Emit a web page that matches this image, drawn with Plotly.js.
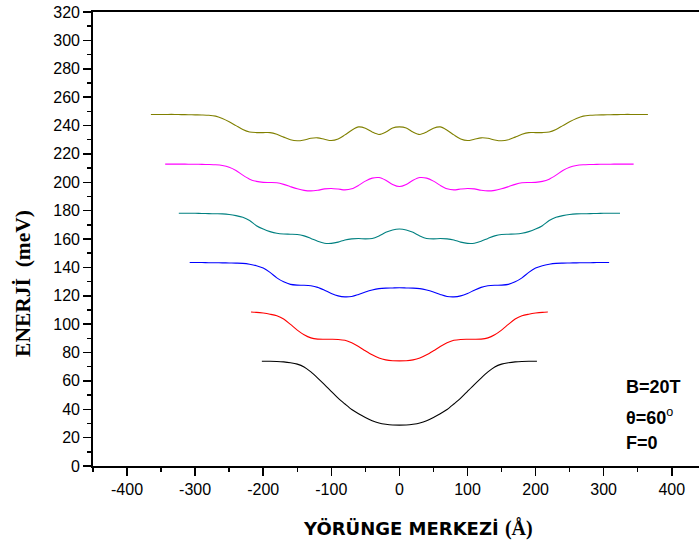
<!DOCTYPE html>
<html><head><meta charset="utf-8">
<script src="https://cdn.plot.ly/plotly-3.0.1.min.js"></script>
<style>html,body{margin:0;padding:0;background:#fff}#chart{width:699px;height:548px}</style>
</head><body><div id="chart"></div>
<script>
// Curve data (x: orbit centre in Å, y: energy in meV)
const xBlack = [-202,-190,-180,-170,-160,-150,-140,-130,-120,-110,-100,-90,-80,-70,-60,-50,-40,-30,-20,-10,0,10,20,30,40,50,60,70,80,90,100,110,120,130,140,150,160,170,180,190,202];
const yBlack = [73.8,73.8,73.7,73.4,72.8,71.8,69.8,66.3,62.0,57.4,52.6,47.8,43.7,39.8,36.8,34.2,31.9,30.3,29.4,28.9,28.8,28.9,29.4,30.3,31.9,34.2,36.8,39.8,43.7,47.8,52.6,57.4,62.0,66.3,69.8,71.8,72.8,73.4,73.7,73.8,73.8];

const xRed = [-218,-210,-200,-190,-180,-170,-160,-150,-140,-130,-120,-110,-100,-90,-80,-70,-60,-50,-40,-30,-20,-10,0,10,20,30,40,50,60,70,80,90,100,110,120,130,140,150,160,170,180,190,200,210,218];
const yRed = [108.5,108.3,107.8,107.0,105.9,103.6,99.8,95.8,92.5,90.3,89.4,89.3,89.3,89.2,88.6,86.8,84.2,81.2,78.4,76.1,74.8,74.2,74.1,74.2,74.8,76.1,78.4,81.2,84.2,86.8,88.6,89.2,89.3,89.3,89.4,90.3,92.5,95.8,99.8,103.6,105.9,107.0,107.8,108.3,108.5];

const xBlue = [-308,-300,-290,-280,-270,-260,-250,-240,-230,-220,-210,-200,-190,-180,-170,-160,-150,-140,-130,-120,-110,-100,-90,-80,-70,-60,-50,-40,-30,-20,-10,0,10,20,30,40,50,60,70,80,90,100,110,120,130,140,150,160,170,180,190,200,210,220,230,240,250,260,270,280,290,300,308];
const yBlue = [143.4,143.4,143.4,143.3,143.3,143.2,143.1,143.0,142.8,142.2,141.2,139.5,136.5,132.6,129.8,128.0,127.5,127.4,127.0,125.9,123.9,121.6,119.9,119.2,119.5,120.9,122.6,124.0,125.0,125.4,125.5,125.6,125.5,125.4,125.0,124.0,122.6,120.9,119.5,119.2,119.9,121.6,123.9,125.9,127.0,127.4,127.5,128.0,129.8,132.6,136.5,139.5,141.2,142.2,142.8,143.0,143.1,143.2,143.3,143.3,143.4,143.4,143.4];

const xTeal = [-324,-310,-300,-290,-280,-270,-260,-250,-240,-230,-220,-210,-200,-190,-180,-170,-160,-150,-140,-130,-120,-110,-100,-90,-80,-70,-60,-50,-40,-30,-20,-10,0,10,20,30,40,50,60,70,80,90,100,110,120,130,140,150,160,170,180,190,200,210,220,230,240,250,260,270,280,290,300,310,324];
const yTeal = [178.2,178.2,178.1,178.0,177.9,177.8,177.7,177.3,176.5,175.3,173.0,169.4,167.0,165.2,164.0,163.5,163.4,163.2,162.2,160.4,158.4,157.0,156.9,157.8,159.3,160.1,160.3,160.1,160.4,162.2,164.7,166.4,167.0,166.4,164.7,162.2,160.4,160.1,160.3,160.1,159.3,157.8,156.9,157.0,158.4,160.4,162.2,163.2,163.4,163.5,164.0,165.2,167.0,169.4,173.0,175.3,176.5,177.3,177.7,177.8,177.9,178.0,178.1,178.2,178.2];

const xMagenta = [-344,-330,-320,-310,-300,-290,-280,-270,-260,-250,-240,-230,-220,-210,-200,-190,-180,-170,-160,-150,-140,-130,-120,-110,-100,-90,-80,-70,-60,-50,-40,-30,-20,-10,0,10,20,30,40,50,60,70,80,90,100,110,120,130,140,150,160,170,180,190,200,210,220,230,240,250,260,270,280,290,300,310,320,330,344];
const yMagenta = [212.8,212.8,212.8,212.7,212.7,212.6,212.5,212.3,211.8,210.6,208.3,205.0,202.2,200.6,199.9,199.8,199.6,198.5,196.9,195.4,194.3,193.9,194.4,195.3,195.6,195.2,194.6,195.4,197.8,200.8,202.9,203.3,201.4,198.5,197.0,198.5,201.4,203.3,202.9,200.8,197.8,195.4,194.6,195.2,195.6,195.3,194.4,193.9,194.3,195.4,196.9,198.5,199.6,199.8,199.9,200.6,202.2,205.0,208.3,210.6,211.8,212.3,212.5,212.6,212.7,212.7,212.8,212.8,212.8];

const xOlive = [-365,-350,-340,-330,-320,-310,-300,-290,-280,-270,-260,-250,-240,-230,-220,-210,-200,-190,-180,-170,-160,-150,-140,-130,-120,-110,-100,-90,-80,-70,-60,-50,-40,-30,-20,-10,0,10,20,30,40,50,60,70,80,90,100,110,120,130,140,150,160,170,180,190,200,210,220,230,240,250,260,270,280,290,300,310,320,330,340,350,365];
const yOlive = [247.8,247.8,247.8,247.8,247.7,247.6,247.5,247.4,247.2,246.6,244.9,242.6,239.9,237.2,235.4,235.0,235.0,235.0,233.8,231.8,229.9,229.2,229.8,231.0,231.3,230.3,229.4,230.5,233.4,236.7,239.0,238.1,235.4,233.7,235.4,238.3,239.0,238.3,235.4,233.7,235.4,238.1,239.0,236.7,233.4,230.5,229.4,230.3,231.3,231.0,229.8,229.2,229.9,231.8,233.8,235.0,235.0,235.0,235.4,237.2,239.9,242.6,244.9,246.6,247.2,247.4,247.5,247.6,247.7,247.8,247.8,247.8,247.8];

const xTickVals = [-400,-300,-200,-100,0,100,200,300,400];
const xTickText = ['-400','-300','-200','-100','0','100','200','300','400'];
const yTickVals = [0,20,40,60,80,100,120,140,160,180,200,220,240,260,280,300,320];
const yTickText = ['0','20','40','60','80','100','120','140','160','180','200','220','240','260','280','300','320'];

const series = [
  {x: xBlack, y: yBlack, color: '#000000'},
  {x: xRed, y: yRed, color: '#ff0000'},
  {x: xBlue, y: yBlue, color: '#0000ff'},
  {x: xTeal, y: yTeal, color: '#008080'},
  {x: xMagenta, y: yMagenta, color: '#ff00ff'},
  {x: xOlive, y: yOlive, color: '#808000'}
];

const traces = series.map(s => ({
  x: s.x, y: s.y, type: 'scatter', mode: 'lines',
  line: {color: s.color, width: 1.1, shape: 'spline', smoothing: 0.8},
  hoverinfo: 'skip', showlegend: false
}));

const tickFont = {family: 'Liberation Sans, Arial, sans-serif', size: 16, color: '#000'};
const annFont = {family: 'Liberation Sans, Arial, sans-serif', size: 18, color: '#000'};

const layout = {
  width: 699, height: 548,
  margin: {l: 93, r: 0, t: 12, b: 82},
  paper_bgcolor: '#ffffff', plot_bgcolor: '#ffffff',
  showlegend: false,
  xaxis: {
    range: [-450, 440], tickmode: 'array', tickvals: xTickVals, ticktext: xTickText,
    ticks: 'outside', ticklen: 8, tickwidth: 1.5, tickcolor: '#000',
    showline: true, linewidth: 1.8, linecolor: '#000', mirror: true,
    showgrid: false, zeroline: false, tickfont: tickFont,
    minor: {ticks: 'outside', ticklen: 4, tickwidth: 1.5, tickcolor: '#000', dtick: 50, tick0: 0, showgrid: false}
  },
  yaxis: {
    range: [0, 320], tickmode: 'array', tickvals: yTickVals, ticktext: yTickText,
    ticks: 'outside', ticklen: 8, tickwidth: 1.5, tickcolor: '#000',
    showline: true, linewidth: 1.8, linecolor: '#000', mirror: false,
    showgrid: false, zeroline: false, tickfont: tickFont,
    minor: {ticks: 'outside', ticklen: 4, tickwidth: 1.5, tickcolor: '#000', dtick: 10, tick0: 0, showgrid: false}
  },
  annotations: [
    {xref: 'paper', yref: 'paper', x: -0.1155, y: 0.401, xanchor: 'center', yanchor: 'middle', textangle: -90, showarrow: false,
     text: '<b>ENERJİ  (meV)</b>', font: {family: 'Liberation Serif, Times New Roman, serif', size: 21.5, color: '#000'}},
    {xref: 'paper', yref: 'paper', x: 0.536, y: -0.137, xanchor: 'center', yanchor: 'middle', showarrow: false,
     text: '<b>YÖRÜNGE MERKEZİ </b><span style="font-family:Liberation Serif, Times New Roman, serif;font-size:20px"><b>(Å)</b></span>',
     font: {family: 'DejaVu Sans, Verdana, sans-serif', size: 18, color: '#000'}},
    {xref: 'paper', yref: 'paper', x: 0.876, y: 0.174, xanchor: 'left', yanchor: 'middle', showarrow: false,
     text: '<b>B=20T</b>', font: annFont},
    {xref: 'paper', yref: 'paper', x: 0.876, y: 0.109, xanchor: 'left', yanchor: 'middle', showarrow: false,
     text: '<b>θ=60</b><sup>o</sup>', font: annFont},
    {xref: 'paper', yref: 'paper', x: 0.876, y: 0.050, xanchor: 'left', yanchor: 'middle', showarrow: false,
     text: '<b>F=0</b>', font: annFont}
  ]
};

Plotly.newPlot('chart', traces, layout, {displayModeBar: false, staticPlot: true});
</script>
</body></html>
